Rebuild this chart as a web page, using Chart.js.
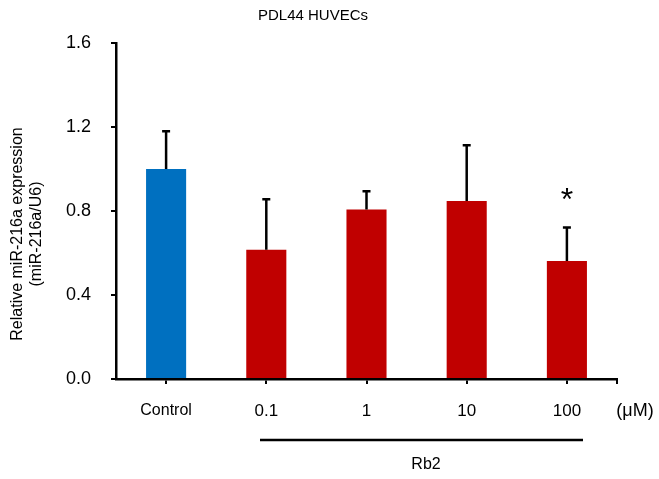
<!DOCTYPE html>
<html>
<head>
<meta charset="utf-8">
<script src="https://cdn.jsdelivr.net/npm/chart.js@4"></script>
<style>
  html, body { margin: 0; padding: 0; background: #fff; }
  #wrap { width: 659px; height: 479px; }
</style>
</head>
<body>
<div id="wrap"><canvas id="chart" width="659" height="479"></canvas></div>
<script>
// data
const categories = ['Control', '0.1', '1', '10', '100'];
const means = [1.0, 0.615, 0.807, 0.848, 0.562];
const errTops = [1.18, 0.856, 0.894, 1.113, 0.721];
const barColors = ['#0070C0', '#C00000', '#C00000', '#C00000', '#C00000'];
const significant = [false, false, false, false, true];
const yTicks = [0.0, 0.4, 0.8, 1.2, 1.6];

const FONT = '"Liberation Sans", Arial, sans-serif';

// error bars, stars and the extra texts
const extras = {
    id: 'extras',
    afterDatasetsDraw(chart) {
        const ctx = chart.ctx;
        const x = chart.scales.x, y = chart.scales.y;
        ctx.save();
        ctx.strokeStyle = '#000';
        ctx.fillStyle = '#000';
        ctx.lineWidth = 2.5;
        categories.forEach((c, i) => {
            const cx = x.getPixelForValue(i);
            const top = y.getPixelForValue(errTops[i]);
            const base = y.getPixelForValue(means[i]);
            ctx.beginPath();
            ctx.moveTo(cx, base);
            ctx.lineTo(cx, top);
            ctx.moveTo(cx - 4, top);
            ctx.lineTo(cx + 4, top);
            ctx.stroke();
            if (significant[i]) {
                ctx.font = '32px ' + FONT;
                ctx.textAlign = 'center';
                ctx.textBaseline = 'middle';
                ctx.fillText('*', cx, top - 26);
            }
        });
        // right end tick of the x axis
        ctx.lineWidth = 2;
        ctx.beginPath();
        ctx.moveTo(chart.chartArea.right, chart.chartArea.bottom);
        ctx.lineTo(chart.chartArea.right, chart.chartArea.bottom + 5);
        ctx.stroke();

        ctx.textAlign = 'center';
        ctx.textBaseline = 'middle';
        // title
        ctx.font = '15px ' + FONT;
        ctx.fillText('PDL44 HUVECs', 313, 16);

        // unit
        ctx.font = '18px ' + FONT;
        ctx.fillText('(\u03BCM)', 635, 411);

        // Rb2 bracket
        ctx.lineWidth = 2.5;
        ctx.beginPath();
        ctx.moveTo(260, 440);
        ctx.lineTo(583, 440);
        ctx.stroke();
        ctx.font = '16px ' + FONT;
        ctx.fillText('Rb2', 426, 465);

        // y axis title
        ctx.save();
        ctx.translate(18, 234);
        ctx.rotate(-Math.PI / 2);
        ctx.font = '16px ' + FONT;
        ctx.fillText('Relative miR-216a expression', 0, 0);
        ctx.fillText('(miR-216a/U6)', 0, 19);
        ctx.restore();
        ctx.restore();
    }
};

new Chart(document.getElementById('chart'), {
    type: 'bar',
    data: {
        labels: categories,
        datasets: [{
            data: means,
            backgroundColor: barColors,
            borderWidth: 0,
            barPercentage: 0.4,
            categoryPercentage: 1.0
        }]
    },
    options: {
        responsive: false,
        animation: false,
        devicePixelRatio: 1,
        layout: { padding: { top: 43, right: 42, left: 0, bottom: 0 } },
        plugins: { legend: { display: false }, tooltip: { enabled: false } },
        scales: {
            x: {
                offset: true,
                afterFit: s => { s.height = 100; },
                border: { color: '#000', width: 2.5 },
                grid: { offset: false, drawOnChartArea: false, drawTicks: true, tickLength: 5, color: '#000', lineWidth: 2 },
                ticks: {
                    color: '#000',
                    padding: 17,
                    maxRotation: 0,
                    font: c => c.index === 0 ? { family: FONT, size: 16 } : { family: FONT, size: 17 }
                }
            },
            y: {
                min: 0,
                max: 1.6,
                afterFit: s => { s.width = 116; },
                afterBuildTicks: s => { s.ticks = yTicks.map(v => ({ value: v })); },
                border: { color: '#000', width: 2.5 },
                grid: { drawOnChartArea: false, drawTicks: true, tickLength: 5, color: '#000', lineWidth: 2 },
                ticks: {
                    color: '#000',
                    padding: 20,
                    font: { family: FONT, size: 18 },
                    callback: v => v.toFixed(1)
                }
            }
        }
    },
    plugins: [extras]
});
</script>
</body>
</html>
